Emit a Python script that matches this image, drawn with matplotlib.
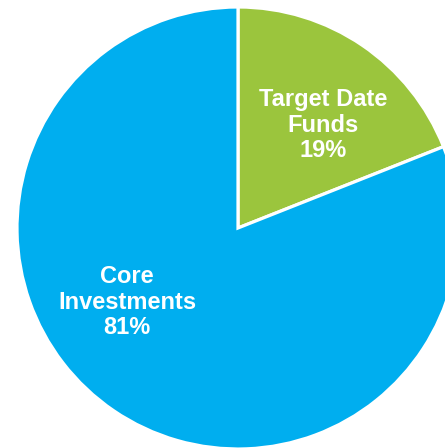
import matplotlib
matplotlib.use("Agg")
import matplotlib.pyplot as plt

labels = ["Target Date\nFunds", "Core\nInvestments"]
shares = [19, 81]
colors = ["#9BC53D", "#00AEEF"]

fig = plt.figure(figsize=(4.45, 4.48), dpi=100)
ax = fig.add_axes([0, 0, 1, 1])

ax.pie(shares, colors=colors, startangle=90, counterclock=False,
       center=(238, 220), radius=221,
       wedgeprops=dict(edgecolor="white", linewidth=2.3))

ax.set_xlim(0, 445)
ax.set_ylim(0, 448)
ax.set_aspect("equal")
ax.axis("off")

# label spots, picked by eye
spots = [(323, 323), (127, 146)]
for (x, y), lab, v in zip(spots, labels, shares):
    ax.text(x, y, f"{lab}\n{v}%", ha="center", va="center", color="white",
            fontsize=17, fontweight="bold", family=["Liberation Sans", "DejaVu Sans"],
            linespacing=1.15)

fig.savefig("out.png", dpi=100)
